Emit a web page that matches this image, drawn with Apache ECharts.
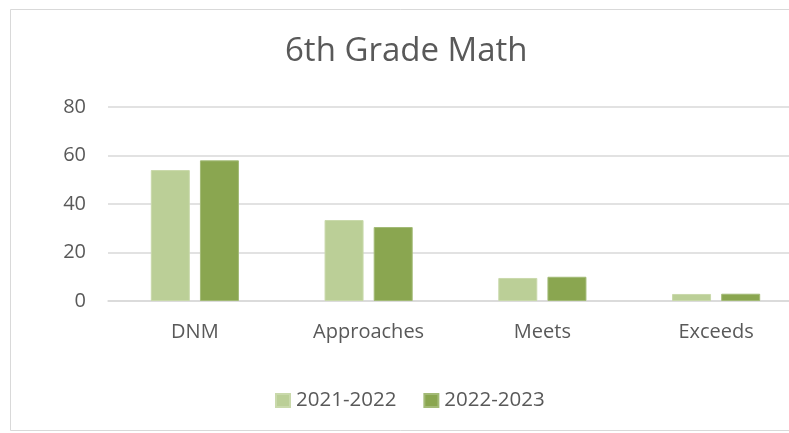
<!DOCTYPE html>
<html>
<head>
<meta charset="utf-8">
<script src="https://cdn.jsdelivr.net/npm/echarts@6/dist/echarts.min.js"></script>
<style>
html,body{margin:0;padding:0;background:#fff;}
#c{width:789px;height:433px;}
</style>
</head>
<body>
<div id="c"></div>
<script>
const titleText = "6th Grade Math";
const categories = ["DNM", "Approaches", "Meets", "Exceeds"];
const seriesNames = ["2021-2022", "2022-2023"];
const values2021 = [54, 33.4, 9.5, 2.9];
const values2022 = [58, 30.5, 10, 3];
const yTicks = [0, 20, 40, 60, 80];

const FONT = "Open Sans";
const chart = echarts.init(document.getElementById('c'), null, {renderer: 'canvas'});
chart.setOption({
  animation: false,
  backgroundColor: '#fff',
  graphic: [{
    type: 'rect', shape: {x: 10.5, y: 9.5, width: 900, height: 421}, silent: true,
    style: {fill: 'none', stroke: '#d9d9d9', lineWidth: 1}
  }],
  title: {
    text: titleText, left: 285, top: 35, padding: 0,
    textStyle: {fontFamily: FONT, fontSize: 33, fontWeight: 'normal', color: '#595959'}
  },
  legend: {
    data: seriesNames, top: 390, left: 275, padding: 0,
    itemWidth: 14, itemHeight: 13, itemGap: 27,
    icon: 'rect',
    textStyle: {fontFamily: FONT, fontSize: 20.5, color: '#595959', padding: [0, 0, 0, 1]}
  },
  grid: {left: 108, top: 107, width: 695, bottom: 132, containLabel: false, outerBoundsMode: 'none'},
  xAxis: {
    type: 'category', data: categories,
    axisLine: {show: true, lineStyle: {color: '#d9d9d9', width: 1.5}},
    axisTick: {show: false},
    axisLabel: {fontFamily: FONT, fontSize: 20, color: '#595959', margin: 21}
  },
  yAxis: {
    type: 'value', min: yTicks[0], max: yTicks[yTicks.length - 1], interval: 20,
    axisLine: {show: false}, axisTick: {show: false},
    splitLine: {lineStyle: {color: '#d9d9d9', width: 1.5}},
    axisLabel: {fontFamily: FONT, fontSize: 20, color: '#595959', margin: 22, padding: [3, 0, 0, 0]}
  },
  series: [
    {name: seriesNames[0], type: 'bar', data: values2021, barWidth: 39, barGap: '26%',
     itemStyle: {color: '#bbcf97', borderColor: '#c9d9ab', borderWidth: 1}},
    {name: seriesNames[1], type: 'bar', data: values2022, barWidth: 39, barGap: '26%',
     itemStyle: {color: '#8aa650', borderColor: '#a3ba76', borderWidth: 1}}
  ]
});
</script>
</body>
</html>
